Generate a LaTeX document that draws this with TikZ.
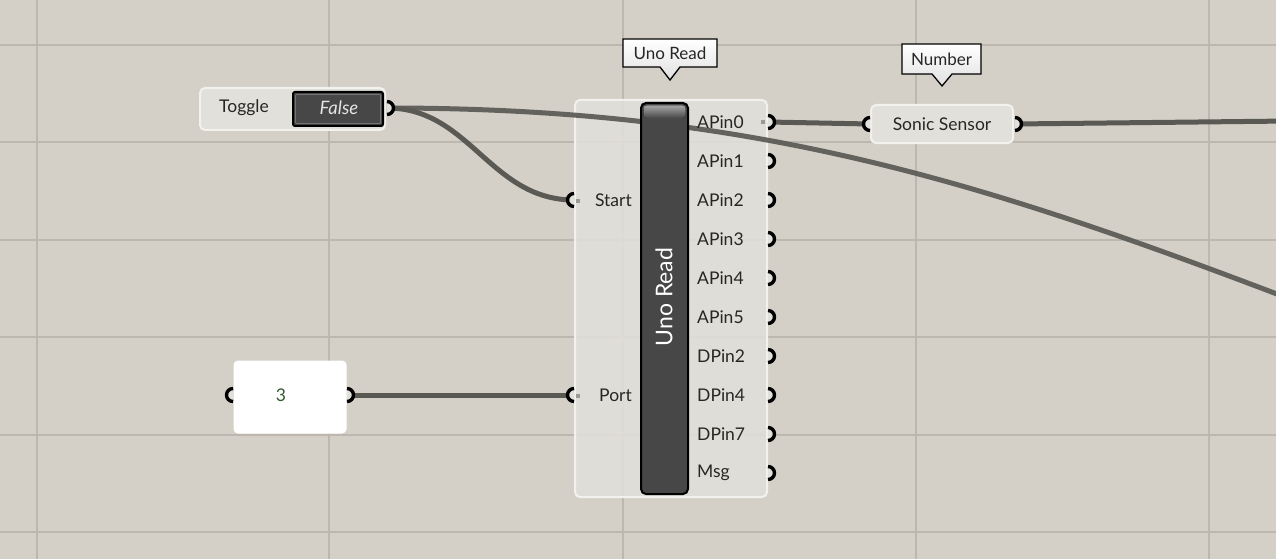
\documentclass[tikz,border=0pt]{standalone}
\usepackage{fontspec}
\setmainfont{Lato}
\usetikzlibrary{calc}
\definecolor{bg}{HTML}{D4D0C8}
\definecolor{gridc}{HTML}{BCB8B0}
\definecolor{wirec}{HTML}{5A5954}
\definecolor{compfill}{HTML}{E2E0DA}
\definecolor{compedge}{HTML}{F2F1EE}
\definecolor{darkbar}{HTML}{474747}
\definecolor{txt}{HTML}{262626}
\definecolor{numgreen}{HTML}{2F5A2F}
\newcommand\ghoutport[1]{%
  \fill[compfill] (#1) ++(0pt,6.5pt) arc[start angle=90,end angle=-90,radius=6.5pt] -- cycle;
  \draw[portarc] (#1) ++(0pt,6.5pt) arc[start angle=90,end angle=-90,radius=6.5pt];}
\newcommand\ghinport[1]{%
  \fill[compfill] (#1) ++(0pt,6.5pt) arc[start angle=90,end angle=270,radius=6.5pt] -- cycle;
  \draw[portarc] (#1) ++(0pt,6.5pt) arc[start angle=90,end angle=270,radius=6.5pt];}
\begin{document}
\begin{tikzpicture}[x=1pt,y=-1pt,
  font=\fontsize{17.5}{19}\selectfont,
  gridline/.style={gridc,line width=1.5pt},
  wire/.style={wirec,line width=5pt},
  comp/.style={draw=compedge,line width=2pt,fill=compfill,rounded corners=5pt},
  portarc/.style={black,line width=3.4pt},
  lbl/.style={text=txt,inner sep=0pt},
  tagbox/.style={draw=black,line width=1.3pt,top color=white,bottom color=black!12},
  tagtext/.style={text=txt,inner sep=0pt,font=\fontsize{17}{19}\selectfont},
  conn/.style={fill=black!40}
]
\useasboundingbox (0,0) rectangle (1276,559);
\fill[bg] (0,0) rectangle (1276,559);
% grid
\foreach \y in {45,142,240,337,435,532} \draw[gridline] (0,\y) -- (1276,\y);
\foreach \x in {37,329,623,916,1209} \draw[gridline] (\x,0) -- (\x,559);

% coordinates of ports
\coordinate (tgout) at (387,108);
\coordinate (startin) at (574,200);
\coordinate (portin) at (574,395);
\coordinate (snin) at (870,124);
\coordinate (snout) at (1015,124);
\coordinate (pnlin) at (233,395);
\coordinate (pnlout) at (347,395);
\coordinate (offA) at (1290,299);
\coordinate (offB) at (1290,121);
\foreach \n/\y in {0/122,1/161,2/200,3/239,4/278,5/317,6/356,7/395,8/434,9/473}
  \coordinate (out\n) at (768,\y);

% Uno Read body
\path[comp,fill opacity=0.85] (575,100) rectangle (767,497);

% wires
\draw[wire] (tgout) .. controls (470,108) and (490,200) .. (startin);
\draw[wire] (pnlout) -- (portin);
\draw[wire] (out0) -- (snin);
\draw[wire] (snout) -- (offB);
\draw[wire,opacity=0.92] (tgout) .. controls (750,108) and (978,180) .. (offA);

% Uno Read bar
\draw[fill=darkbar,draw=black,line width=2pt,rounded corners=5pt] (641,103) rectangle (688,494);
\fill[top color=black!35,bottom color=darkbar,rounded corners=3pt] (643.5,105.5) rectangle (685.5,118);
\node[rotate=90,text=white,inner sep=0pt,font=\fontsize{23}{25}\selectfont] (unoname) at (664,297) {Uno Read};

% Uno labels
\node[lbl,anchor=east] (lstart) at (632,200) {Start};
\node[lbl,anchor=east] (lport) at (632,395) {Port};
\foreach \n/\t in {0/APin0,1/APin1,2/APin2,3/APin3,4/APin4,5/APin5,6/DPin2,7/DPin4,8/DPin7,9/Msg}
  \node[lbl,anchor=west] (lo\n) at ($(out\n)+(-71pt,0pt)$) {\t};

% Toggle
\path[comp] (200,88) rectangle (385,130);
\node[lbl] (togglelbl) at (244,108) {Toggle};
\draw[fill=darkbar,draw=black,line width=2pt,rounded corners=2pt] (293,92) rectangle (383,126);
\draw[black!55,line width=0.8pt,rounded corners=1pt] (295.5,94.5) rectangle (380.5,123.5);
\node[text=black!10,inner sep=0pt,font=\fontsize{18.5}{20}\selectfont\itshape] (falsebtn) at (339,108) {False};

% Sonic Sensor
\path[comp] (871,105) rectangle (1013,143);
\node[lbl] (sonic) at (942,124) {Sonic Sensor};

% Panel
\draw[fill=white,draw=white,line width=1pt,rounded corners=4pt] (234,361) rectangle (346,433);
\node[lbl,text=numgreen] (panel) at (281,395) {3};

% tags
\draw[tagbox] (623,39) -- (717,39) -- (717,67) -- (680,67) -- (670,80) -- (660,67) -- (623,67) -- cycle;
\node[tagtext] (unotag) at (670,53) {Uno Read};
\draw[tagbox] (902,44) -- (981,44) -- (981,74) -- (952,74) -- (942,86) -- (932,74) -- (902,74) -- cycle;
\node[tagtext] (numtag) at (941.5,59) {Number};

% ports
\ghoutport{tgout}
\ghinport{startin}
\ghinport{portin}
\ghinport{snin}
\ghoutport{snout}
\ghinport{pnlin}
\ghoutport{pnlout}
\foreach \n in {0,...,9} {\ghoutport{out\n}}

% connection markers
\fill[conn] (576,198.5) rectangle (580,202.5);
\fill[conn] (576,393.5) rectangle (580,397.5);
\fill[conn] (761,120) rectangle (765,124);
\end{tikzpicture}
\end{document}
